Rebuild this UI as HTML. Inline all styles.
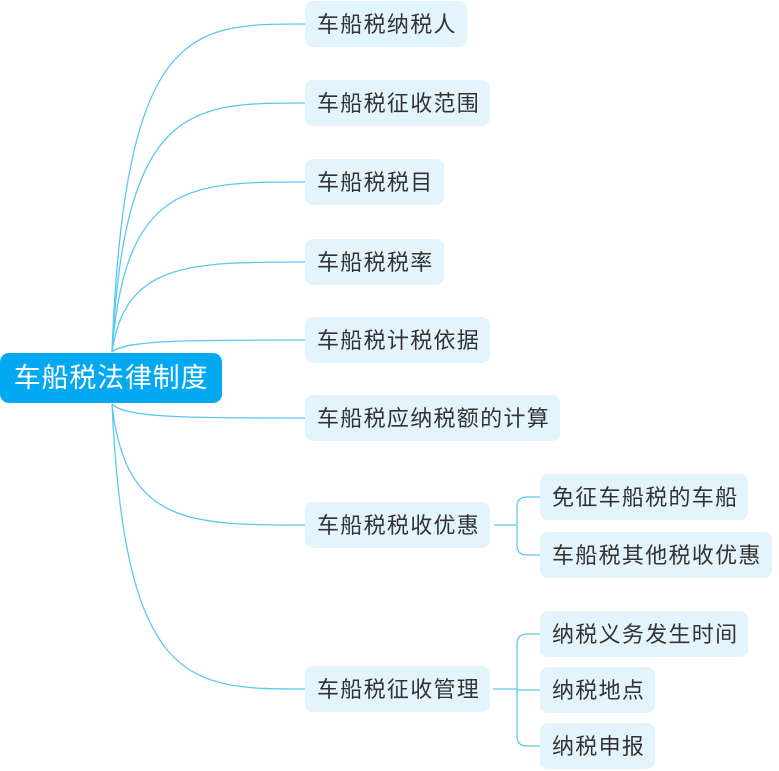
<!DOCTYPE html>
<html><head><meta charset="utf-8"><style>
body{margin:0;width:779px;height:771px;background:#fff;position:relative;overflow:hidden;font-family:"Liberation Sans","Noto Sans CJK SC",sans-serif}
.n{position:absolute;height:46px;line-height:48px;padding:0 10px 0 12px;background:#e3f4fc;border-radius:8px;font-size:22px;letter-spacing:1.3px;color:#333;white-space:nowrap}
.r{position:absolute;left:0;top:353px;width:222px;height:50px;line-height:50px;background:#03a9f0;border-radius:9px;color:#fff;font-size:27px;letter-spacing:0.8px;text-align:center}
svg{position:absolute;left:0;top:0}
</style></head><body>
<svg width="779" height="771" fill="none" stroke="#5bc8f2" stroke-width="1.3">
<path d="M112,352 C125,24 190,24 305,24"/>
<path d="M112,352 C125,103 190,103 305,103"/>
<path d="M112,352 C125,182 190,182 305,182"/>
<path d="M112,352 C125,262 190,262 305,262"/>
<path d="M112,352 C125,340 190,340 305,340"/>
<path d="M112,404 C125,418 190,418 305,418"/>
<path d="M112,404 C125,525 190,525 305,525"/>
<path d="M112,404 C125,689 190,689 305,689"/>
<path d="M494,525 H517 M540,497 H527 Q517,497 517,507 V545 Q517,555 527,555 H540"/>
<path d="M493,689 H517 M540,634 H527 Q517,634 517,644 V736 Q517,746 527,746 H540 M517,690 H540"/>
</svg>
<div class="r">车船税法律制度</div>
<div class="n" style="left:305px;top:1px">车船税纳税人</div>
<div class="n" style="left:305px;top:80px">车船税征收范围</div>
<div class="n" style="left:305px;top:159px">车船税税目</div>
<div class="n" style="left:305px;top:239px">车船税税率</div>
<div class="n" style="left:305px;top:317px">车船税计税依据</div>
<div class="n" style="left:305px;top:395px">车船税应纳税额的计算</div>
<div class="n" style="left:305px;top:502px">车船税税收优惠</div>
<div class="n" style="left:305px;top:666px">车船税征收管理</div>
<div class="n" style="left:540px;top:474px">免征车船税的车船</div>
<div class="n" style="left:540px;top:532px">车船税其他税收优惠</div>
<div class="n" style="left:540px;top:611px">纳税义务发生时间</div>
<div class="n" style="left:540px;top:667px">纳税地点</div>
<div class="n" style="left:540px;top:723px">纳税申报</div>
</body></html>
